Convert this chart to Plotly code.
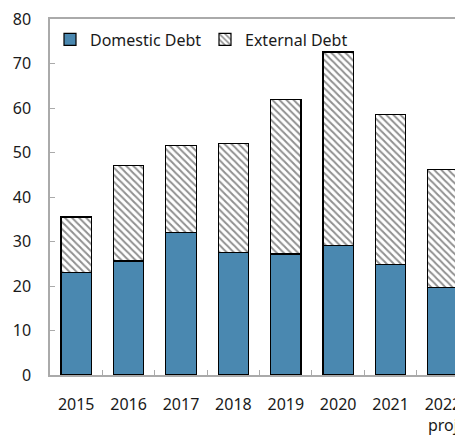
import plotly.graph_objects as go

years = ["2015", "2016", "2017", "2018", "2019", "2020", "2021", "2022<br>proj"]
domestic = [23.0, 25.6, 32.1, 27.6, 27.2, 29.1, 24.9, 19.6]
external = [12.5, 21.4, 19.4, 24.5, 34.8, 43.5, 33.7, 26.5]
y_ticks = [0, 10, 20, 30, 40, 50, 60, 70, 80]

FONT = "Noto Sans"

fig = go.Figure()
fig.add_trace(go.Bar(
    x=years, y=domestic, name="Domestic Debt",
    marker=dict(color="#4a88b0", line=dict(color="black", width=1.2)),
    width=0.58,
))
fig.add_trace(go.Bar(
    x=years, y=external, name="External Debt",
    marker=dict(color="white", line=dict(color="black", width=1.2),
                pattern=dict(shape="\\", fgcolor="#222222", bgcolor="white", size=5, solidity=0.4)),
    width=0.58,
))

fig.update_layout(
    barmode="stack",
    width=455, height=437,
    margin=dict(l=50, r=0, t=19, b=62),
    paper_bgcolor="white", plot_bgcolor="white",
    font=dict(family=FONT, size=16, color="#1a1a1a"),
    showlegend=True,
    legend=dict(orientation="h", x=0.0, y=0.99, xanchor="left", yanchor="top",
                font=dict(size=16), bgcolor="rgba(0,0,0,0)", itemwidth=30,
                traceorder="normal", entrywidth=110),
)
fig.update_xaxes(
    type="category", range=[-0.5, 7.23], automargin=False,
    showline=True, linecolor="#aaaaaa", linewidth=1.5, mirror=True,
    ticks="inside", tickson="boundaries", ticklen=5, tickcolor="#aaaaaa",
    showgrid=False, tickfont=dict(size=16), ticklabelstandoff=14,
)
fig.update_yaxes(
    range=[0, 80], tickvals=y_ticks, automargin=False,
    showline=True, linecolor="#aaaaaa", linewidth=1.5,
    ticks="inside", ticklen=5, tickcolor="#aaaaaa",
    showgrid=False, zeroline=False, tickfont=dict(size=16), ticklabelstandoff=14,
)

fig.write_html("out.html", config={"displayModeBar": False},
               post_script="document.body.style.margin='0';")
